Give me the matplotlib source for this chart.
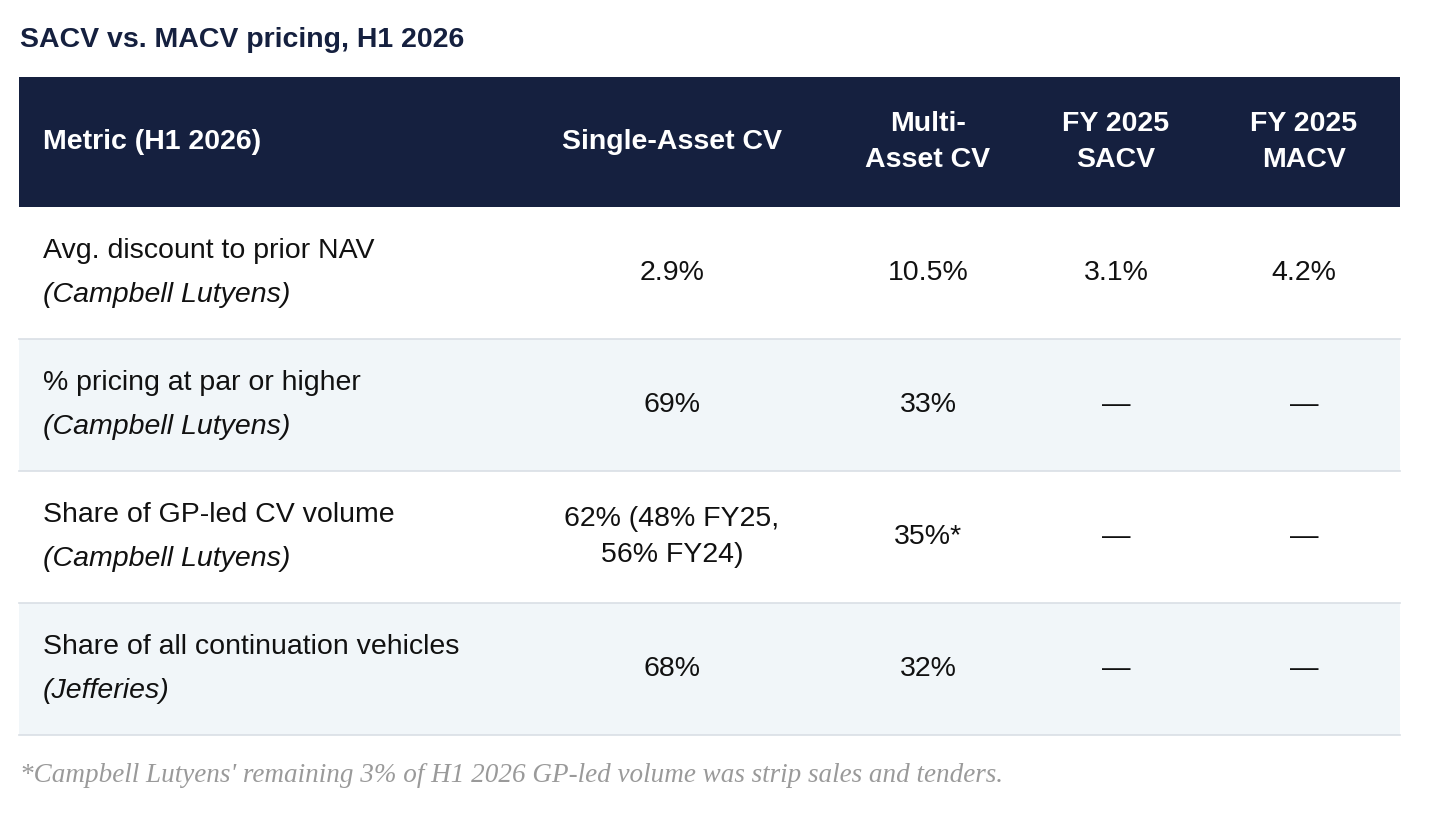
import matplotlib
matplotlib.use("Agg")
import matplotlib.pyplot as plt
from matplotlib.patches import Rectangle

title = "SACV vs. MACV pricing, H1 2026"
headers = ["Metric (H1 2026)", "Single-Asset CV", "Multi-\nAsset CV", "FY 2025\nSACV", "FY 2025\nMACV"]
metrics = ["Avg. discount to prior NAV", "% pricing at par or higher",
           "Share of GP-led CV volume", "Share of all continuation vehicles"]
sources = ["(Campbell Lutyens)", "(Campbell Lutyens)", "(Campbell Lutyens)", "(Jefferies)"]
sacv = ["2.9%", "69%", "62% (48% FY25,\n56% FY24)", "68%"]
macv = ["10.5%", "33%", "35%*", "32%"]
fy_sacv = ["3.1%", "—", "—", "—"]
fy_macv = ["4.2%", "—", "—", "—"]
footnote = "*Campbell Lutyens' remaining 3% of H1 2026 GP-led volume was strip sales and tenders."

W, H = 1456, 840
fig = plt.figure(figsize=(W/100, H/100), dpi=100)
ax = fig.add_axes([0, 0, 1, 1])
ax.set_xlim(0, W); ax.set_ylim(H, 0); ax.axis("off")
plt.rcParams['font.family'] = ['Liberation Sans', 'DejaVu Sans']

navy = "#15203f"
fs = 20.5
ax.text(20, 40, title, fontsize=20.5, fontweight="bold", color=navy, va="center")

x0, x1 = 19, 1400
ax.add_patch(Rectangle((x0, 77), x1-x0, 130, color=navy, lw=0))
cx = [43, 672, 928, 1116, 1304]
for i, h in enumerate(headers):
    ax.text(cx[i], 142, h, fontsize=fs, fontweight="bold", color="white", va="center",
            ha="left" if i == 0 else "center", linespacing=1.5)

top, rh = 207, 132
for r in range(4):
    y = top + r*rh
    if r % 2 == 1:
        ax.add_patch(Rectangle((x0, y), x1-x0, rh, color="#f1f6f9", lw=0))
    ax.plot([x0, x1], [y+rh, y+rh], color="#d9dfe5", lw=1.2)
    yc = y + rh/2
    ax.text(43, yc-22, metrics[r], fontsize=fs, color="#111111", va="center")
    ax.text(43, yc+22, sources[r], fontsize=fs, style="italic", color="#111111", va="center")
    for i, col in enumerate([sacv, macv, fy_sacv, fy_macv]):
        ax.text(cx[i+1], yc, col[r], fontsize=fs, color="#111111", va="center", ha="center",
                linespacing=1.5)

ax.text(20, 775, footnote, fontsize=19.5, style="italic", color="#9a9a9a", va="center",
        family=["Liberation Serif", "DejaVu Serif"])
fig.savefig("out.png", dpi=100)
